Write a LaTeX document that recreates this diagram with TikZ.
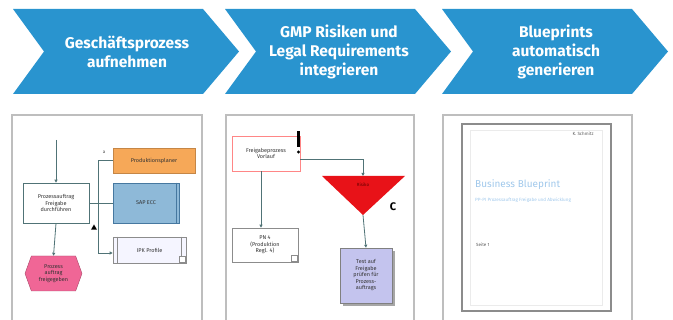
\documentclass[tikz,border=0pt]{standalone}
\usepackage{fontspec}
\setsansfont{Fira Sans}
\usetikzlibrary{arrows.meta, shapes.geometric, shapes.symbols, positioning}

\definecolor{chevblue}{RGB}{41,148,207}
\definecolor{framegray}{RGB}{190,190,190}
\definecolor{linegray}{RGB}{80,115,118}
\definecolor{boxorange}{RGB}{246,168,88}
\definecolor{boxblue}{RGB}{142,185,216}
\definecolor{boxblueedge}{RGB}{70,120,160}
\definecolor{hexpink}{RGB}{240,102,150}
\definecolor{triangred}{RGB}{232,18,24}
\definecolor{doclila}{RGB}{196,196,238}
\definecolor{pageblue}{RGB}{160,200,235}

\tikzset{
    chevron/.style={fill=chevblue, draw=none},
    chevtext/.style={text=white, align=center,
        font=\sffamily\bfseries\fontsize{15.5}{19}\selectfont},
    panel/.style={draw=framegray, line width=1.2pt},
    flowbox/.style={draw=linegray, fill=white, line width=0.6pt,
        minimum width=66pt, minimum height=40pt, inner sep=1pt, align=center,
        text=black!80, font=\sffamily\fontsize{5.5}{6.5}\selectfont},
    flow/.style={draw=linegray, line width=0.8pt},
    flowarrow/.style={flow, -{Triangle[length=3pt, width=3pt]}},
    tinytext/.style={font=\sffamily\fontsize{4.5}{5}\selectfont, text=black!65}
}

\begin{document}
\begin{tikzpicture}[x=1pt, y=-1pt]

    \useasboundingbox (0,0) rectangle (673,320);

    % chevrons
    \foreach \x/\i/\txt in {13/1/{Geschäftsprozess\\aufnehmen},
            225/2/{GMP Risiken und\\Legal Requirements\\integrieren},
            442/3/{Blueprints\\automatisch\\generieren}}{
        \fill[chevron]
        (\x,9) -- (\x+190,9) -- (\x+226,51.5) -- (\x+190,94)
        -- (\x,94) -- (\x+31,51.5) -- cycle;
        \node[chevtext] (chev\i) at (\x+114,52) {\txt};
    }

    % frames
    \draw[panel] (12,320) -- (12,115) -- (202,115) -- (202,320);
    \draw[panel] (226,320) -- (226,115) -- (414,115) -- (414,320);
    \draw[panel] (443,320) -- (443,115) -- (632,115) -- (632,320);

    % first picture
    \coordinate (start) at (56,140);
    \node[flowbox] (auftrag) at (56,203) {Prozessauftrag\\Freigabe\\durchführen};
    \node[signal, signal to=west and east, signal pointer angle=140,
        fill=hexpink, draw=hexpink!70!black, minimum width=57pt,
        minimum height=35pt, inner sep=1pt, align=center,
        font=\sffamily\fontsize{5.5}{6.5}\selectfont, text=black!80]
        (freigegeben) at (53.5,273.5) {Prozess\\auftrag\\freigegeben};
    \node[flowbox, fill=boxorange, draw=boxorange!80!black,
        minimum width=82pt, minimum height=25pt]
        (planer) at (154,160.5) {Produktionsplaner};
    \node[flowbox, fill=boxblue, draw=boxblueedge, line width=0.9pt]
        (sap) at (146,203) {SAP ECC};
    \node[flowbox, fill=blue!4, draw=black!45,
        minimum width=73pt, minimum height=26pt]
        (ipk) at (149.5,250) {IPK Profile};
    \draw[boxblueedge] ([xshift=-3pt]sap.north east) -- ([xshift=-3pt]sap.south east);
    \draw[black!45] ([xshift=-5pt]ipk.north east) -- ([xshift=-5pt]ipk.south east);
    \draw[black!45, fill=white] ([shift={(-7,-1)}]ipk.south east) rectangle ++(6,-6);
    \draw[black!45] ([xshift=4pt]ipk.north west) -- ([xshift=4pt]ipk.south west);

    \draw[flowarrow] (start) -- (auftrag.north);
    \draw[flowarrow] (auftrag.south) -- (freigegeben.north);
    \draw[flow] (auftrag.east) -- (sap.west);
    \draw[flowarrow] (planer.west) -| (98,253) -- (ipk.west |- 0,253);
    \node[tinytext, text=black!75] (klein a) at (104,152) {a};
    \node[regular polygon, regular polygon sides=3, fill=black,
        minimum size=7pt, inner sep=0pt] (marke) at (94,228) {};

    % second picture
    \node[flowbox, draw=red!30!pink, minimum width=68pt, minimum height=35pt]
        (vorlauf) at (266,153.5) {Freigabeprozess\\Vorlauf};
    \fill (297,131) rectangle (300,147);
    \fill (298.5,152) circle [radius=1.6];
    \node[flowbox, draw=black!45, minimum width=66pt, minimum height=34pt]
        (pn) at (265,245) {PN 4\\(Produktion\\Regl. 4)};
    \draw[black!45, fill=white] ([shift={(-7,-1)}]pn.south east) rectangle ++(6,-6);

    \coordinate (tri top) at (363,176);
    \coordinate (tri tip) at (363,215);
    \fill[triangred] (322,176) -- (405,176) -- (tri tip) -- cycle;
    \node[tinytext, text=red!40!black] (risiko) at (363,185) {Risiko};
    \node[font=\sffamily\bfseries\fontsize{11}{11}\selectfont] (buchstabe c) at (393,207) {C};

    \fill[black!35] (343,251) rectangle (395,306);
    \node[flowbox, fill=doclila, draw=black!50, minimum width=52pt,
        minimum height=55pt] (test) at (366,275.5)
        {Test auf\\Freigabe\\prüfen für\\Prozess-\\auftrags};

    \draw[flowarrow] ([yshift=-5.5pt]vorlauf.east) -| (tri top);
    \draw[flowarrow] (tri tip) -- (test.north);
    \draw[flowarrow] ([xshift=-5pt]vorlauf.south) -- ([xshift=-4pt]pn.north);

    % third picture
    \draw[black!45, line width=1.3pt] (462,124) rectangle (611,311);
    \draw[black!8] (470,130) rectangle (602,305);
    \node[tinytext, anchor=east] (autor) at (597,134) {K. Schmitz};
    \node[anchor=west, text=pageblue, inner sep=0pt,
        font=\sffamily\fontsize{10}{10}\selectfont] (titel) at (475,185) {Business Blueprint};
    \node[anchor=west, text=pageblue, inner sep=0pt,
        font=\sffamily\fontsize{4.6}{5}\selectfont] (untertitel) at (475,200)
        {PP-PI Prozessauftrag Freigabe und Abwicklung};
    \node[tinytext, anchor=west, inner sep=0pt] (seite) at (476,245) {Seite 1};

\end{tikzpicture}
\end{document}
